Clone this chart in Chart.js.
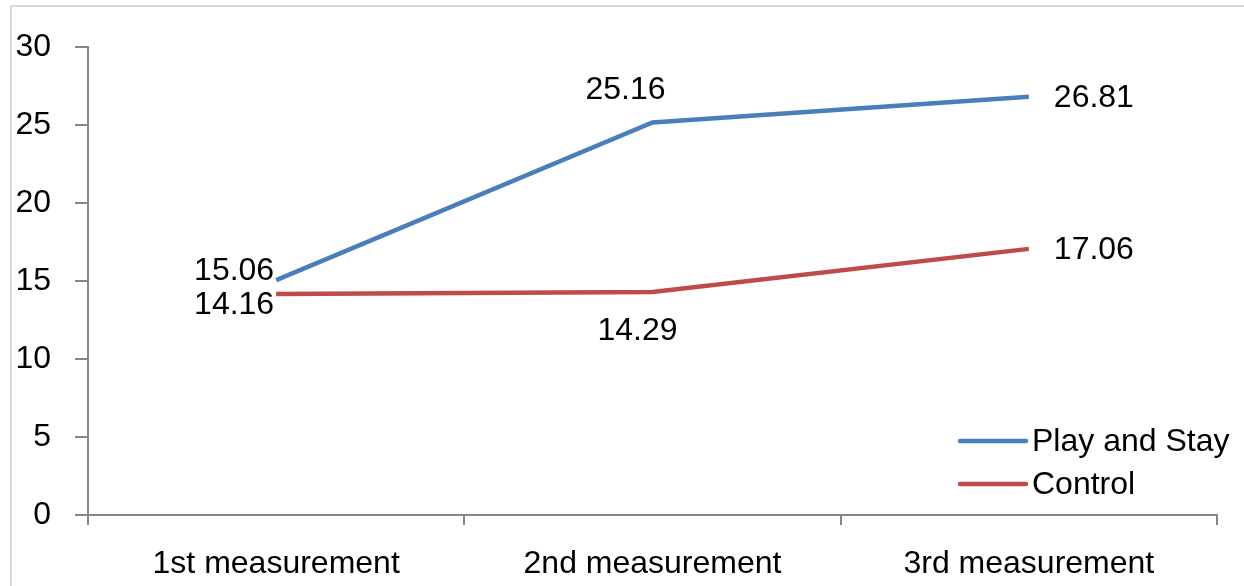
<!DOCTYPE html>
<html>
<head>
<meta charset="utf-8">
<script src="https://cdn.jsdelivr.net/npm/chart.js@4.4.1/dist/chart.umd.min.js"></script>
<style>
  html, body { margin: 0; padding: 0; background: #fff; overflow: hidden; }
  #wrap { position: relative; width: 1244px; height: 586px; }
  #frame { position: absolute; left: 10px; top: 5px; width: 1300px; height: 700px;
           border-left: 2px solid #d9d9d9; border-top: 2px solid #d9d9d9; }
  canvas { position: absolute; left: 0; top: 0; }
</style>
</head>
<body>
<div id="wrap">
  <div id="frame"></div>
  <canvas id="myChart" width="1244" height="586"></canvas>
</div>
<script>
const categories = ['1st measurement', '2nd measurement', '3rd measurement'];
const playAndStay = [15.06, 25.16, 26.81];
const control = [14.16, 14.29, 17.06];
const yTicks = [0, 5, 10, 15, 20, 25, 30];

// pick the narrow face if it is there, it looks closer to the picture
function hasFont(name) {
  const c = document.createElement('canvas').getContext('2d');
  c.font = '40px monospace';
  const a = c.measureText('mmmmwwwiii').width;
  c.font = '40px "' + name + '", monospace';
  return c.measureText('mmmmwwwiii').width !== a;
}
const narrow = hasFont('Liberation Sans Narrow');
const family = narrow ? '"Liberation Sans Narrow", "Liberation Sans", Arial' : '"Liberation Sans", Arial';
const fsize = narrow ? 38 : 32;

// where each value label sits next to its point
const labelSpots = [
  [{ dx: -2, dy: -9, align: 'right' }, { dx: -27, dy: -32, align: 'center' }, { dx: 25, dy: 1, align: 'left' }],
  [{ dx: -2, dy: 11, align: 'right' }, { dx: -15, dy: 39, align: 'center' }, { dx: 25, dy: 1, align: 'left' }],
];

const valueLabels = {
  id: 'valueLabels',
  afterDatasetsDraw(chart) {
    const ctx = chart.ctx;
    ctx.save();
    ctx.font = fsize + 'px ' + family;
    ctx.fillStyle = '#000';
    ctx.textBaseline = 'middle';
    chart.data.datasets.forEach((ds, i) => {
      chart.getDatasetMeta(i).data.forEach((pt, j) => {
        const s = labelSpots[i][j];
        ctx.textAlign = s.align;
        ctx.fillText(ds.data[j].toFixed(2), pt.x + s.dx, pt.y + s.dy);
      });
    });
    ctx.restore();
  },
};

const insideLegend = {
  id: 'insideLegend',
  afterDraw(chart) {
    const ctx = chart.ctx;
    const a = chart.chartArea;
    ctx.save();
    ctx.font = fsize + 'px ' + family;
    ctx.textBaseline = 'middle';
    ctx.textAlign = 'left';
    chart.data.datasets.forEach((ds, i) => {
      const y = a.bottom - 74 + i * 43;
      const x = a.right - 257;
      ctx.strokeStyle = ds.borderColor;
      ctx.lineWidth = 4.5;
      ctx.lineCap = 'round';
      ctx.beginPath();
      ctx.moveTo(x, y);
      ctx.lineTo(x + 66, y);
      ctx.stroke();
      ctx.fillStyle = '#000';
      ctx.fillText(ds.label, x + 72, y + 1);
    });
    ctx.restore();
  },
};

const ctx = document.getElementById('myChart').getContext('2d');
const myChart = new Chart(ctx, {
  type: 'line',
  data: {
    labels: categories,
    datasets: [
      {
        label: 'Play and Stay',
        data: playAndStay,
        borderColor: '#4a7ebb',
        borderWidth: 4.5,
        pointRadius: 0,
        tension: 0,
      },
      {
        label: 'Control',
        data: control,
        borderColor: '#be4b48',
        borderWidth: 4.5,
        pointRadius: 0,
        tension: 0,
      },
    ],
  },
  options: {
    responsive: false,
    animation: false,
    layout: { padding: { left: 0, top: 47, right: 27, bottom: 0 } },
    plugins: { legend: { display: false }, tooltip: { enabled: false } },
    scales: {
      x: {
        offset: true,
        grid: { offset: true, drawOnChartArea: false, tickLength: 10, color: '#868686', lineWidth: 2 },
        border: { color: '#868686', width: 2 },
        ticks: { color: '#000', font: { family: family, size: fsize }, padding: 20, maxRotation: 0 },
        afterFit(scale) { scale.height = 71; },
      },
      y: {
        min: 0,
        max: 30,
        afterBuildTicks(scale) { scale.ticks = yTicks.map(v => ({ value: v })); },
        grid: { drawOnChartArea: false, tickLength: 13, color: '#868686', lineWidth: 2 },
        border: { color: '#868686', width: 2 },
        ticks: { color: '#000', font: { family: family, size: fsize }, padding: 24 },
        afterFit(scale) { scale.width = 88; },
      },
    },
  },
  plugins: [valueLabels, insideLegend],
});
</script>
</body>
</html>
